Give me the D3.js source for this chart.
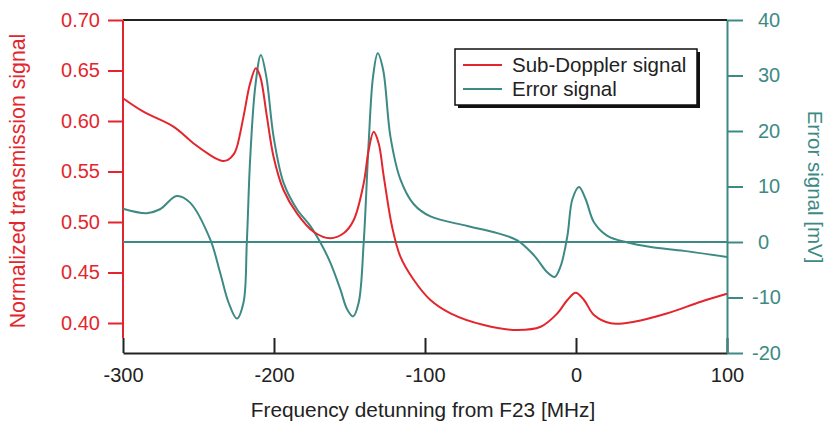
<!doctype html>
<html>
<head>
  <meta charset="utf8"/>
  <style>
    body { margin: 0; background: #fff; }
    svg text { font-family: "Liberation Sans", Arial, sans-serif; }
    .line { fill: none; stroke-width: 2px; }
  </style>
</head>
<body>
  <svg width="828" height="433"></svg>
  <script src="https://d3js.org/d3.v7.min.js"></script>
  <script>
    // values
    var subFreq = [-300, -286.5, -266.6, -253.4, -242.3, -237.5, -234, -230.5, -226.5, -224.6, -220.2, -215.8,
                   -212, -209.1, -204.7, -200.3, -193.7, -184.8, -173.8, -162.7, -153.9, -147.2,
                   -140.6, -137.3, -134, -130.7, -127.3, -121.8, -116.3, -107.4, -96.4, -83.1,
                   -61, -38.9, -23.4, -12.3, -5.7, -0.2, 5.3, 11.9, 23, 38.5, 60.6, 82.7, 100];
    var subSignal = [0.6225, 0.6092, 0.5944, 0.578, 0.5663, 0.5622, 0.5605, 0.5615, 0.5675, 0.574, 0.6043, 0.6373,
                     0.6522, 0.6439, 0.6043, 0.5647, 0.5317, 0.5086, 0.4904, 0.4839, 0.4888, 0.502,
                     0.5383, 0.5713, 0.5894, 0.578, 0.5449, 0.4953, 0.4657, 0.4426, 0.4228, 0.4096,
                     0.398, 0.3931, 0.3963, 0.4096, 0.4228, 0.43, 0.4228, 0.4079, 0.3997, 0.4013,
                     0.4096, 0.4211, 0.429];

    var errFreq = [-300, -284.3, -275.5, -264.4, -255.6, -242.3, -235.7, -230.1, -224.6, -220.2,
                   -218, -215.8, -212.4, -208.7, -205.1, -200.3, -193.7, -184.8, -176, -169.3,
                   -162.7, -156.1, -151.6, -147.6, -143.9, -140.6, -137.3, -134.4, -131.3, -127.7,
                   -122.9, -116.3, -107.4, -96.4, -72, -52.1, -38.9, -27.8, -18.9, -14.1,
                   -10.1, -5.7, -2.4, 2.0, 6.4, 12, 20.8, 34.1, 49.5, 71.6, 100];
    var errSignal = [6.0, 5.2, 5.9, 8.3, 7.1, 0.5, -5.5, -10.9, -13.8, -10.9,
                     -0.1, 14.9, 28.0, 33.7, 29.8, 19.0, 10.7, 5.9, 2.9, -0.1,
                     -3.7, -8.5, -12.1, -13.4, -10.9, -0.1, 17.9, 29.8, 34.0, 31.0,
                     19.0, 11.3, 6.8, 4.6, 2.9, 1.6, 0.3, -2.4, -5.5, -6.3,
                     -4.3, 1.1, 7.7, 9.9, 7.7, 3.5, 1.1, -0.1, -0.9, -1.6, -2.7];

    var xTicks = [-300, -200, -100, 0, 100];
    var leftTicks = [0.40, 0.45, 0.50, 0.55, 0.60, 0.65, 0.70];
    var rightTicks = [-20, -10, 0, 10, 20, 30, 40];

    var red = '#e3262d',
        teal = '#3d8a85';

    var svg = d3.select('svg'),
        margin = {top: 20, right: 101, bottom: 80, left: 123},
        width = +svg.attr('width') - margin.left - margin.right,
        height = +svg.attr('height') - margin.top - margin.bottom,
        g = svg.append('g').attr('transform',
                                 'translate(' + margin.left + ',' + margin.top + ')');

    var x = d3.scaleLinear().domain([-300, 100]).range([0, width]);
    var yL = d3.scaleLinear().domain([0.3703, 0.70]).range([height, 0]);
    var yR = d3.scaleLinear().domain([-20, 40]).range([height, 0]);

    // plain hyphen for negatives, like the original
    var intFmt = function(d) { return String(d); };

    // top frame line
    g.append('line').attr('x1', 0).attr('x2', width).attr('y1', 0).attr('y2', 0)
      .attr('stroke', '#222').attr('stroke-width', 2);

    // bottom axis, ticks pointing inward
    var xAxis = g.append('g')
      .attr('transform', 'translate(0,' + height + ')')
      .call(d3.axisBottom(x).tickValues(xTicks).tickSizeInner(-15).tickSizeOuter(0)
              .tickPadding(15).tickFormat(intFmt));
    xAxis.select('.domain').attr('stroke', '#222').attr('stroke-width', 2);
    xAxis.selectAll('.tick line').attr('stroke', '#222').attr('stroke-width', 2);
    xAxis.selectAll('text').attr('font-size', 20).attr('fill', '#222');

    // left axis (red)
    var lAxis = g.append('g')
      .call(d3.axisLeft(yL).tickValues(leftTicks).tickSizeInner(15).tickSizeOuter(0)
              .tickPadding(8).tickFormat(d3.format('.2f')));
    lAxis.select('.domain').attr('stroke', red).attr('stroke-width', 2)
      .attr('d', 'M0,0V' + (height - 15));
    lAxis.selectAll('.tick line').attr('stroke', red).attr('stroke-width', 2);
    lAxis.selectAll('text').attr('font-size', 20).attr('fill', red);

    // right axis (teal)
    var rAxis = g.append('g')
      .attr('transform', 'translate(' + width + ',0)')
      .call(d3.axisRight(yR).tickValues(rightTicks).tickSizeInner(16).tickSizeOuter(0)
              .tickPadding(15).tickFormat(intFmt));
    rAxis.select('.domain').attr('stroke', teal).attr('stroke-width', 2);
    rAxis.selectAll('.tick line').attr('stroke', teal).attr('stroke-width', 2);
    rAxis.selectAll('text').attr('font-size', 20).attr('fill', teal)
      .attr('dx', function(d) { return d < 0 ? -6 : 0; });

    // zero line for the error signal
    g.append('line')
      .attr('x1', 0).attr('x2', width)
      .attr('y1', yR(0)).attr('y2', yR(0))
      .attr('stroke', teal).attr('stroke-width', 2);

    var subLine = d3.line()
      .curve(d3.curveCatmullRom.alpha(0.5))
      .x(function(d, i) { return x(subFreq[i]); })
      .y(function(d) { return yL(d); });
    var errLine = d3.line()
      .curve(d3.curveCatmullRom.alpha(0.5))
      .x(function(d, i) { return x(errFreq[i]); })
      .y(function(d) { return yR(d); });

    g.append('path').attr('class', 'line')
      .attr('d', errLine(errSignal)).style('stroke', teal);
    g.append('path').attr('class', 'line')
      .attr('d', subLine(subSignal)).style('stroke', red);

    // axis titles
    svg.append('text')
      .attr('transform', 'translate(25,181) rotate(-90)')
      .attr('text-anchor', 'middle').attr('font-size', 21.3).attr('fill', red)
      .text('Normalized transmission signal');
    svg.append('text')
      .attr('transform', 'translate(808,187) rotate(90)')
      .attr('text-anchor', 'middle').attr('font-size', 20.5).attr('fill', teal)
      .text('Error signal [mV]');
    svg.append('text')
      .attr('x', 423).attr('y', 417)
      .attr('text-anchor', 'middle').attr('font-size', 20.8).attr('fill', '#222')
      .text('Frequency detunning from F23 [MHz]');

    // legend with drop shadow
    var legend = svg.append('g').attr('transform', 'translate(455,49)');
    legend.append('rect').attr('x', 3).attr('y', 3).attr('width', 242).attr('height', 56)
      .attr('fill', '#111');
    legend.append('rect').attr('width', 242).attr('height', 56)
      .attr('fill', '#fff').attr('stroke', '#111').attr('stroke-width', 1.5);
    var items = [{name: 'Sub-Doppler signal', color: red},
                 {name: 'Error signal', color: teal}];
    items.forEach(function(d, i) {
      var yy = 16 + i * 24;
      legend.append('line').attr('x1', 8).attr('x2', 47).attr('y1', yy).attr('y2', yy)
        .attr('stroke', d.color).attr('stroke-width', 2);
      legend.append('text').attr('x', 57).attr('y', yy + 7)
        .attr('font-size', 20.5).attr('fill', '#222').text(d.name);
    });
  </script>
</body>
</html>
